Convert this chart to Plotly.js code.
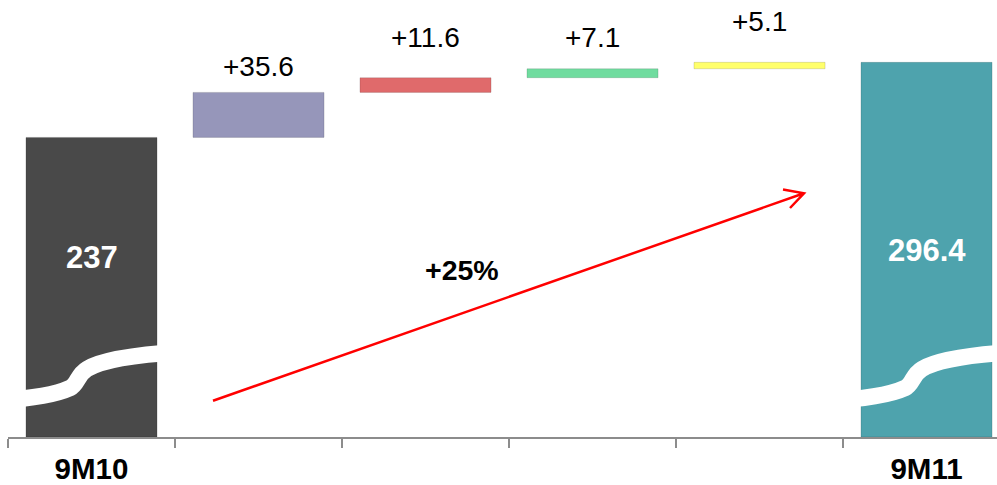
<!DOCTYPE html>
<html>
<head>
<meta charset="utf-8">
<script src="https://cdn.plot.ly/plotly-3.0.1.min.js"></script>
<style>
  html, body { margin: 0; padding: 0; background: #ffffff; overflow: hidden; }
  #chart { width: 997px; height: 485px; }
</style>
</head>
<body>
<div id="chart"></div>
<script>
// Bridge from 9M10 to 9M11: opening value, four increments, closing value
const categories = ['9M10', 'step1', 'step2', 'step3', 'step4', '9M11'];
const tickLabels = ['9M10', '', '', '', '', '9M11'];
const startValue = 237;
const deltas = [35.6, 11.6, 7.1, 5.1];
const endValue = 296.4;
const growthLabel = '+25%';

// Styling
const barColors = ['#494949', '#9696ba', '#e06a6b', '#70dc9f', '#ffff6b', '#4ea3ad'];
const FONT = 'Liberation Sans, Arial, Helvetica, sans-serif';
const deltaLabelLift = [26, 40, 31, 41];

// Plot area geometry (pixels) used to place decorations in paper space
const W = 997, H = 485;
const M = { l: 8, r: 0, t: 0, b: 48 };
const plotW = W - M.l - M.r;
const plotH = H - M.t - M.b;
const xRange = [-0.5, 5.422];
const catPx = plotW / (xRange[1] - xRange[0]);
const toPaper = (x, y) => [((x - M.l) / plotW).toFixed(5), ((H - M.b - y) / plotH).toFixed(5)];

// Bar lengths and bases
const values = [startValue, ...deltas, endValue];
const bases = [0];
let running = startValue;
deltas.forEach(d => { bases.push(running); running += d; });
bases.push(0);

const trace = {
  type: 'bar',
  x: categories,
  y: values,
  base: bases,
  width: 0.785,
  marker: {
    color: barColors,
    line: { color: 'rgba(0,0,0,0.13)', width: 1 }
  },
  hoverinfo: 'skip',
  textposition: 'none'
};

// Value labels
const annotations = [];
deltas.forEach((d, i) => {
  annotations.push({
    x: categories[i + 1], y: bases[i + 1] + d, xref: 'x', yref: 'y',
    text: '+' + d.toFixed(1), showarrow: false,
    yanchor: 'middle', yshift: deltaLabelLift[i],
    font: { family: FONT, size: 28, color: '#000000' }
  });
});
annotations.push({
  x: categories[0], y: startValue / 2, xref: 'x', yref: 'y',
  text: String(startValue), showarrow: false, yanchor: 'middle', yshift: 30,
  font: { family: FONT, size: 31, color: '#ffffff', weight: 700 }
});
annotations.push({
  x: categories[5], y: endValue / 2, xref: 'x', yref: 'y',
  text: String(endValue), showarrow: false, yanchor: 'middle', yshift: -1,
  font: { family: FONT, size: 31, color: '#ffffff', weight: 700 }
});
const g = toPaper(462, 270);
annotations.push({
  x: +g[0], y: +g[1], xref: 'paper', yref: 'paper',
  text: growthLabel, showarrow: false, xanchor: 'center', yanchor: 'middle',
  font: { family: FONT, size: 28.5, color: '#000000', weight: 700 }
});

// Axis-break wave drawn across the opening and closing bars
function wavePath(dx) {
  const P = (x, y) => toPaper(x + dx, y).join(',');
  return 'M' + P(-10, 401) +
    ' C' + P(30, 399) + ' ' + P(55, 395) + ' ' + P(70, 388) +
    ' C' + P(78, 384) + ' ' + P(77, 375) + ' ' + P(87, 369) +
    ' C' + P(100, 361) + ' ' + P(130, 355) + ' ' + P(180, 352);
}
const waveStyle = { color: '#ffffff', width: 16.5 };

// Growth arrow with an open chevron head
function arrowPath() {
  const P = (x, y) => toPaper(x, y).join(',');
  return 'M' + P(213, 400.7) + ' L' + P(804, 193.3) +
    ' M' + P(783, 189.5) + ' L' + P(804, 193.3) + ' L' + P(790, 208);
}

const shapes = [
  { type: 'path', xref: 'paper', yref: 'paper', layer: 'above', path: wavePath(0), line: waveStyle },
  { type: 'path', xref: 'paper', yref: 'paper', layer: 'above', path: wavePath(5 * catPx), line: waveStyle },
  { type: 'path', xref: 'paper', yref: 'paper', layer: 'above', path: arrowPath(),
    line: { color: '#ff0000', width: 2.5 } }
];

const layout = {
  width: W, height: H,
  autosize: false,
  margin: M,
  paper_bgcolor: '#ffffff',
  plot_bgcolor: '#ffffff',
  showlegend: false,
  bargap: 0.2,
  xaxis: {
    type: 'category',
    categoryorder: 'array',
    categoryarray: categories,
    range: xRange,
    tickmode: 'array',
    tickvals: categories,
    ticktext: tickLabels,
    tickson: 'boundaries',
    ticks: 'outside',
    ticklen: 9,
    tickwidth: 2,
    tickcolor: '#8c8c8c',
    ticklabelstandoff: 5,
    showline: true,
    linecolor: '#8c8c8c',
    linewidth: 2,
    showgrid: false,
    zeroline: false,
    fixedrange: true,
    tickfont: { family: FONT, size: 29.5, color: '#000000', weight: 700 }
  },
  yaxis: {
    range: [0, plotH / ((plotH - 62.3) / endValue)],
    visible: false,
    showgrid: false,
    zeroline: false,
    fixedrange: true
  },
  annotations: annotations,
  shapes: shapes
};

Plotly.newPlot('chart', [trace], layout, { displayModeBar: false, staticPlot: true });
</script>
</body>
</html>
